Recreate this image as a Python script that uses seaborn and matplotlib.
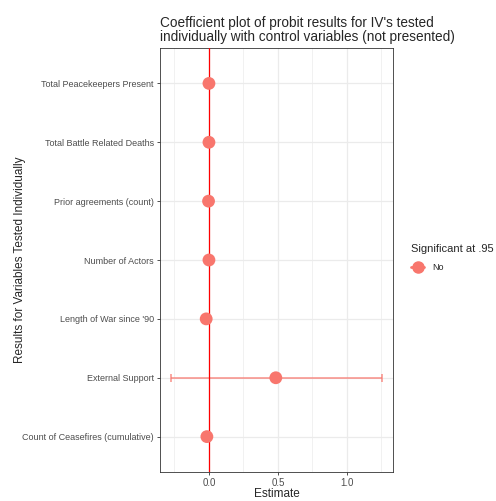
import matplotlib
matplotlib.use("Agg")
import matplotlib.pyplot as plt
import seaborn as sns
import pandas as pd
from matplotlib.ticker import MultipleLocator
from matplotlib.lines import Line2D

variables = [
    "Total Peacekeepers Present",
    "Total Battle Related Deaths",
    "Prior agreements (count)",
    "Number of Actors",
    "Length of War since '90",
    "External Support",
    "Count of Ceasefires (cumulative)",
]
estimates = [0.0, 0.0, -0.003, 0.0, -0.02, 0.485, -0.015]
ci_low = [-0.002, -0.002, -0.018, -0.005, -0.025, -0.275, -0.02]
ci_high = [0.002, 0.002, 0.012, 0.005, -0.015, 1.255, -0.01]
significant = ["No"] * 7

df = pd.DataFrame({
    "variable": variables,
    "estimate": estimates,
    "low": ci_low,
    "high": ci_high,
    "Significant at .95": significant,
})

sns.set_theme(style="white")
plt.rcParams["font.family"] = ["Liberation Sans", "DejaVu Sans"]

red = "#F8766D"
fig = plt.figure(figsize=(4.96, 5.01), dpi=100)
ax = fig.add_axes([0.3226, 0.058, 0.4697, 0.846])

ypos = list(range(len(variables)))
ax.set_ylim(len(variables) - 0.4, -0.6)
ax.set_xlim(-0.355, 1.335)

# grid
ax.xaxis.set_major_locator(MultipleLocator(0.5))
ax.xaxis.set_minor_locator(MultipleLocator(0.25))
ax.grid(True, which="major", color="#EBEBEB", lw=0.9)
ax.grid(True, which="minor", axis="x", color="#EBEBEB", lw=0.5)
ax.set_axisbelow(True)

# confidence intervals
for y, lo, hi in zip(ypos, df["low"], df["high"]):
    ax.errorbar([(lo + hi) / 2], [y], xerr=[[(hi - lo) / 2], [(hi - lo) / 2]],
                fmt="none", ecolor=red, alpha=0.75, elinewidth=1.2,
                capsize=3, capthick=1.2, zorder=2)

ax.axvline(0, color="red", lw=0.9, zorder=3)

df["y"] = ypos
sns.scatterplot(data=df, x="estimate", y="y", hue="Significant at .95",
                palette=[red], s=85, edgecolor="none", ax=ax, zorder=4,
                legend=False)

ax.set_yticks(ypos)
ax.set_yticklabels(variables)
ax.set_xticks([0.0, 0.5, 1.0])
ax.set_xticklabels(["0.0", "0.5", "1.0"])
ax.tick_params(axis="y", which="major", labelsize=6.5, labelcolor="#4D4D4D",
               color="#333333", length=2.5, width=0.6, pad=2, left=True)
ax.tick_params(axis="x", which="major", labelsize=7, labelcolor="#4D4D4D",
               color="#333333", length=2.5, width=0.6, pad=2, bottom=True)
ax.tick_params(axis="x", which="minor", length=0)

for s in ax.spines.values():
    s.set_color("#333333")
    s.set_linewidth(0.6)

ax.set_xlabel("Estimate", fontsize=8.5, labelpad=0)
ax.set_ylabel("Results for Variables Tested Individually", fontsize=8.5)
ax.yaxis.set_label_coords(-0.575, 0.5)
ax.set_title("Coefficient plot of probit results for IV's tested\n"
             "individually with control variables (not presented)",
             fontsize=9.8, loc="left", linespacing=1.0, pad=5)

handle = Line2D([0], [0], marker="o", color=red, markersize=8, lw=2, alpha=1)
leg = fig.legend([handle], ["No"], title="Significant at .95",
                 loc="upper left", bbox_to_anchor=(0.822, 0.52),
                 frameon=False, fontsize=6.5, title_fontsize=8.0,
                 handlelength=1.4, handletextpad=0.9, labelspacing=1.0,
                 borderaxespad=0)
leg._legend_box.align = "left"

fig.savefig("out.png", dpi=100)
